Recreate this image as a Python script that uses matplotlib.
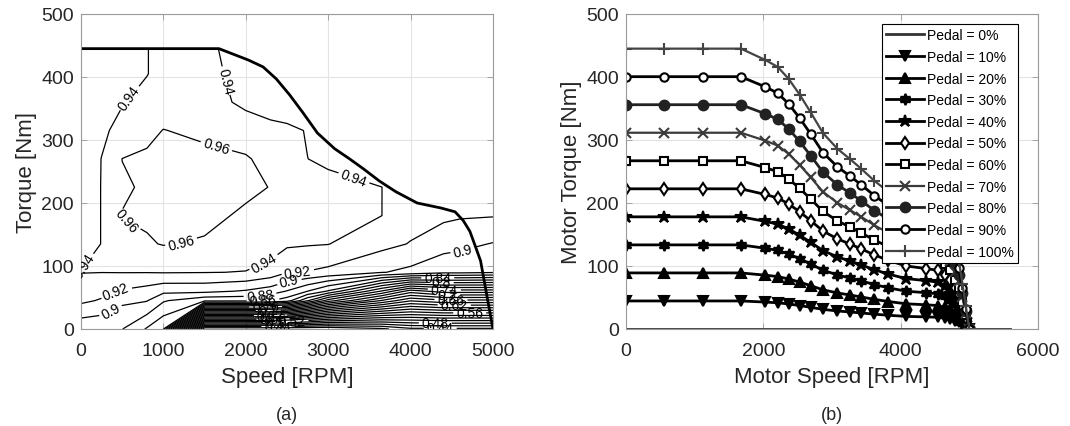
import numpy as np
import matplotlib
matplotlib.use('Agg')
import matplotlib.pyplot as plt

plt.rcParams['font.family'] = ['Liberation Sans', 'DejaVu Sans']

# ---- data ----
# efficiency map grid (speed columns, torque rows)
map_speed = [0, 250, 500, 800, 1000, 1500, 2000, 2300, 2500, 2750, 3000, 3650, 4000, 4400, 4600, 5000]
map_torque = [0, 45, 60, 90, 135, 180, 225, 270, 315, 360, 405, 445]
eff = [
    [0.885, 0.883, 0.8805, 0.858, 0.841, 0.40, 0.40, 0.40, 0.40, 0.40, 0.40, 0.415, 0.435, 0.435, 0.435, 0.435],
    [0.924, 0.918, 0.904, 0.901, 0.882, 0.865, 0.865, 0.861, 0.85, 0.802, 0.75, 0.678, 0.642, 0.655, 0.655, 0.655],
    [0.93, 0.926, 0.918, 0.912, 0.905, 0.905, 0.898, 0.89, 0.879, 0.86, 0.838, 0.758, 0.71, 0.73, 0.73, 0.73],
    [0.9405, 0.9402, 0.9405, 0.9405, 0.941, 0.9405, 0.9395, 0.932, 0.921, 0.919, 0.915, 0.901, 0.895, 0.885, 0.885, 0.882],
    [0.93, 0.9405, 0.955, 0.958, 0.961, 0.958, 0.95, 0.95, 0.943, 0.9415, 0.9405, 0.926, 0.919, 0.908, 0.905, 0.899],
    [0.93, 0.9405, 0.9605, 0.963, 0.965, 0.965, 0.957, 0.955, 0.952, 0.948, 0.946, 0.9401, 0.928, 0.924, 0.922, 0.921],
    [0.93, 0.9405, 0.958, 0.962, 0.965, 0.966, 0.964, 0.9595, 0.952, 0.947, 0.945, 0.9401, 0.93, 0.93, 0.93, 0.93],
    [0.93, 0.9403, 0.9602, 0.963, 0.965, 0.965, 0.9615, 0.955, 0.948, 0.9401, 0.937, 0.93, 0.93, 0.93, 0.93, 0.93],
    [0.93, 0.937, 0.945, 0.955, 0.9605, 0.956, 0.952, 0.946, 0.944, 0.939, 0.93, 0.93, 0.93, 0.93, 0.93, 0.93],
    [0.93, 0.933, 0.939, 0.945, 0.95, 0.95, 0.935, 0.93, 0.928, 0.93, 0.93, 0.93, 0.93, 0.93, 0.93, 0.93],
    [0.93, 0.93, 0.93, 0.9395, 0.945, 0.947, 0.932, 0.93, 0.93, 0.93, 0.93, 0.93, 0.93, 0.93, 0.93, 0.93],
    [0.93, 0.93, 0.93, 0.9395, 0.945, 0.945, 0.93, 0.93, 0.93, 0.93, 0.93, 0.93, 0.93, 0.93, 0.93, 0.93],
]

# max torque curve
speed_pts = [0, 558, 1116, 1674, 2030, 2210, 2370, 2530, 2690, 2870, 3080, 3260, 3430, 3620,
             3820, 4080, 4370, 4540, 4640, 4720, 4790, 4850, 4900, 4950, 5000]
max_torque = [445, 445, 445, 445, 427, 416, 397, 372, 344, 311, 286, 270, 254, 235,
              218, 200, 192, 186, 172, 155, 130, 108, 72, 36, 0]

pedal_levels = [0, 10, 20, 30, 40, 50, 60, 70, 80, 90, 100]
zero_line_speed = [0, 5600]

levels = np.round(np.arange(0.42, 0.97, 0.02), 2)

text_c = '#262626'
axis_c = '#9a9a9a'

fig = plt.figure(figsize=(10.7, 4.27), dpi=100)
ax1 = fig.add_axes([0.0757, 0.2272, 0.385, 0.7377])
ax2 = fig.add_axes([0.585, 0.2272, 0.385, 0.7377])


def style_axes(ax):
    for s in ax.spines.values():
        s.set_color(axis_c)
        s.set_linewidth(0.8)
    ax.tick_params(direction='in', length=4, width=0.6, color=axis_c, labelcolor=text_c,
                   labelsize=14, top=True, right=True, pad=5)
    ax.tick_params(axis='x', pad=9.5)
    ax.grid(True, color='#e3e3e3', lw=0.8)
    ax.set_axisbelow(True)


# ---- (a) efficiency map ----
style_axes(ax1)
cs = ax1.contour(map_speed, map_torque, np.array(eff), levels=levels, colors='k', linewidths=0.9)
label_pos = [(473, 376), (1686, 392), (3323, 243), (1645, 291), (513, 164), (1200, 143),
             (2231, 103), (69, 98), (432, 58), (372, 26), (2635, 87), (2535, 71), (2170, 58),
             (4650, 118), (4718, 24),
             (2210, 44), (2240, 36), (2270, 29), (2300, 22), (2330, 15), (2360, 9), (2390, 4),
             (4330, 82), (4370, 72), (4410, 63), (4450, 54), (4490, 45), (4530, 36),
             (4300, 8), (4360, 3), (2560, 12)]
ax1.clabel(cs, levels=levels, manual=label_pos, fmt=lambda v: f'{v:g}', fontsize=10,
           inline=True, inline_spacing=3, colors='k')
ax1.plot(speed_pts, max_torque, color='k', lw=2)
ax1.set_xlim(0, 5000)
ax1.set_ylim(0, 500)
ax1.set_xticks(range(0, 5001, 1000))
ax1.set_yticks(range(0, 501, 100))
ax1.set_xlabel('Speed [RPM]', fontsize=16, color=text_c, labelpad=5)
ax1.set_ylabel('Torque [Nm]', fontsize=16, color=text_c, labelpad=3)

# ---- (b) pedal curves ----
style_axes(ax2)
hexagram = (6, 1, 0)
marker_list = [None, 'v', '^', hexagram, '*', 'd', 's', 'x', 'o', 'o', '+']
face_list = [None, 'k', 'k', 'k', 'k', 'white', 'white', 'k', '#222222', 'white', 'k']
size_list = [0, 7, 7, 8, 9, 6, 5.5, 7, 7, 6, 8]
color_list = ['#333333', 'k', 'k', 'k', 'k', 'k', 'k', '#3a3a3a', '#222222', 'k', '#444444']
lw_list = [2, 2, 2, 2, 2, 2, 2, 1.6, 2, 2, 1.6]

mt = np.array(max_torque)
for p, m, fc, ms, c, lw in zip(pedal_levels, marker_list, face_list, size_list, color_list, lw_list):
    if p == 0:
        ax2.plot(zero_line_speed, [0, 0], color=c, lw=lw, label='Pedal = 0%')
    else:
        ax2.plot(speed_pts, mt * p / 100, color=c, lw=lw, marker=m, markersize=ms,
                 markerfacecolor=fc, markeredgecolor=c, markeredgewidth=1.5,
                 label=f'Pedal = {p}%')

ax2.set_xlim(0, 6000)
ax2.set_ylim(0, 500)
ax2.set_xticks(range(0, 6001, 2000))
ax2.set_yticks(range(0, 501, 100))
ax2.set_xlabel('Motor Speed [RPM]', fontsize=16, color=text_c, labelpad=5)
ax2.set_ylabel('Motor Torque [Nm]', fontsize=16, color=text_c, labelpad=3)
leg = ax2.legend(loc='upper right', bbox_to_anchor=(0.951, 0.968), borderaxespad=0,
                 fontsize=10, labelspacing=0.55, handlelength=2.7, handletextpad=0.2,
                 borderpad=0.3, fancybox=False, framealpha=1)
leg.get_frame().set_edgecolor('k')
leg.get_frame().set_linewidth(0.8)

fig.text(0.0757 + 0.385 / 2, 0.028, '(a)', ha='center', va='center', fontsize=13, color=text_c)
fig.text(0.585 + 0.385 / 2, 0.028, '(b)', ha='center', va='center', fontsize=13, color=text_c)

fig.savefig('out.png', dpi=100)
